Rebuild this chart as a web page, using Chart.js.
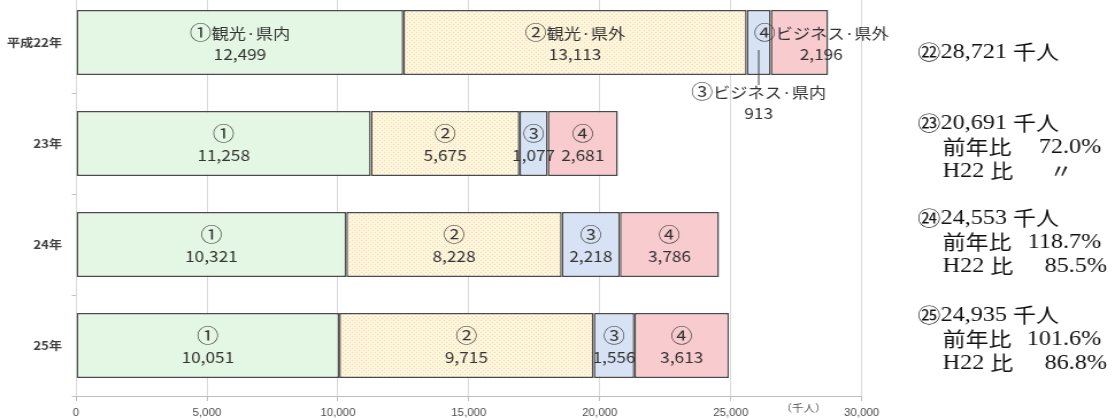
<!DOCTYPE html>
<html lang="ja">
<head>
<meta charset="utf-8">
<script src="https://cdn.jsdelivr.net/npm/chart.js@4.4.1/dist/chart.umd.min.js"></script>
<style>
  html, body { margin: 0; padding: 0; background: #fff; overflow: hidden; width: 1115px; height: 420px; }
  /* the chart is laid out on a narrower canvas and widened horizontally */
  #wrap { position: absolute; left: 0; top: -30px; width: 970px; height: 450px;
          transform: scaleX(1.1495); transform-origin: 0 0; }
</style>
</head>
<body>
<div id="wrap"><canvas id="c"></canvas></div>
<script>
// 観光・ビジネス別 入込客数（千人）
const years       = ['平成22年', '23年', '24年', '25年'];
const eraYears    = [22, 23, 24, 25];
const seriesMarks = ['①', '②', '③', '④'];
const seriesNames = ['観光·県内', '観光·県外', 'ビジネス·県内', 'ビジネス·県外'];
const tourismIn   = [12499, 11258, 10321, 10051];
const tourismOut  = [13113, 5675, 8228, 9715];
const businessIn  = [913, 1077, 2218, 1556];
const businessOut = [2196, 2681, 3786, 3613];
const xTicks      = [0, 5000, 10000, 15000, 20000, 25000, 30000];
const unitLabel   = '（千人）';

const totals = years.map((_, i) => tourismIn[i] + tourismOut[i] + businessIn[i] + businessOut[i]);
const fmt = v => v.toLocaleString('en-US');
const pct = (a, b) => (a / b * 100).toFixed(1) + '%';

const canvas = document.getElementById('c');
const mainCtx = canvas.getContext('2d');

// fine dotted fill for 観光·県外
function dotPattern() {
  const p = document.createElement('canvas');
  p.width = 4; p.height = 4;
  const g = p.getContext('2d');
  g.fillStyle = '#fef5de';
  g.fillRect(0, 0, 4, 4);
  g.fillStyle = '#f5dca4';
  g.fillRect(0, 0, 1, 1);
  g.fillRect(2, 2, 1, 1);
  return mainCtx.createPattern(p, 'repeat');
}

const MARK_FONT = "19px 'Noto Sans CJK JP'";
const LABEL_FONT = "15px 'Noto Sans CJK JP'";
const SERIF = "21px 'Liberation Serif'";
const CJK = "20px 'Noto Sans CJK JP'";

function runsWidth(ctx, runs) {
  return runs.reduce((w, [text, font]) => { ctx.font = font; return w + ctx.measureText(text).width; }, 0);
}

function drawRuns(ctx, x, y, runs) {
  runs.forEach(([text, font]) => {
    ctx.font = font;
    ctx.fillText(text, x, y);
    x += ctx.measureText(text).width;
  });
}

// values inside each bar segment
const barLabels = {
  id: 'barLabels',
  afterDatasetsDraw(chart) {
    const ctx = chart.ctx;
    ctx.save();
    ctx.fillStyle = '#333';
    ctx.textBaseline = 'middle';
    chart.data.datasets.forEach((ds, di) => {
      chart.getDatasetMeta(di).data.forEach((bar, i) => {
        const cx = (bar.x + bar.base) / 2;
        const cy = bar.y;
        const head = [[seriesMarks[di], MARK_FONT]];
        if (i === 0) head.push([seriesNames[di], LABEL_FONT]);
        let hx = cx, y0 = cy - 9.5, y1 = cy + 12;
        if (i === 0 && di === 2) {
          // narrow segment: label sits below the bar with a leader line
          ctx.strokeStyle = '#404040';
          ctx.lineWidth = 1;
          ctx.beginPath();
          ctx.moveTo(cx, cy + 7.5);
          ctx.lineTo(cx, cy + 42.5);
          ctx.stroke();
          y0 = cy + 49.5;
          y1 = cy + 70.5;
        } else if (i === 0 && di === 3) {
          hx = cx + 19;
        }
        ctx.textAlign = 'left';
        drawRuns(ctx, hx - runsWidth(ctx, head) / 2, y0, head);
        ctx.textAlign = 'center';
        ctx.font = LABEL_FONT;
        ctx.fillText(fmt(ds.data[i]), hx, y1);
      });
    });
    ctx.restore();
  }
};

// yearly totals and ratios at the right, plus the unit label
const sideNotes = {
  id: 'sideNotes',
  afterDraw(chart) {
    const ctx = chart.ctx;
    const yScale = chart.scales.y;
    const xScale = chart.scales.x;
    const firstLine = [9.5, -20.5, -26.5, -30.5];
    const gap = 24;
    const x0 = 798.3, xi = 820, xPrev = 958, xBase = 963, xDitto = 923;
    ctx.save();
    ctx.fillStyle = '#111';
    ctx.textBaseline = 'middle';
    years.forEach((_, i) => {
      const y = yScale.getPixelForValue(i) + firstLine[i];
      ctx.textAlign = 'left';
      drawRuns(ctx, x0, y, [
        [String.fromCodePoint(0x3251 + eraYears[i] - 21), CJK],
        [fmt(totals[i]) + ' ', SERIF],
        ['千人', CJK]
      ]);
      if (i === 0) return;
      drawRuns(ctx, xi, y + gap, [['前年比', CJK]]);
      drawRuns(ctx, xi, y + gap * 2, [['H' + eraYears[0] + ' ', SERIF], ['比', CJK]]);
      ctx.textAlign = 'right';
      ctx.font = SERIF;
      ctx.fillText(pct(totals[i], totals[i - 1]), xPrev, y + gap);
      if (i === 1) {
        ctx.textAlign = 'center';
        ctx.font = CJK;
        ctx.fillText('〃', xDitto, y + gap * 2);
      } else {
        ctx.fillText(pct(totals[i], totals[0]), xBase, y + gap * 2);
      }
    });
    ctx.textAlign = 'center';
    ctx.fillStyle = '#595959';
    ctx.font = "10px 'Noto Sans CJK JP'";
    ctx.fillText(unitLabel, 699, xScale.bottom - 12);
    ctx.restore();
  }
};

new Chart(canvas, {
  type: 'bar',
  data: {
    labels: years,
    datasets: [
      { label: seriesNames[0], data: tourismIn,   backgroundColor: '#e4f7e4' },
      { label: seriesNames[1], data: tourismOut,  backgroundColor: dotPattern() },
      { label: seriesNames[2], data: businessIn,  backgroundColor: '#d7e3f4' },
      { label: seriesNames[3], data: businessOut, backgroundColor: '#f8cbce' }
    ]
  },
  options: {
    indexAxis: 'y',
    responsive: true,
    maintainAspectRatio: false,
    animation: false,
    layout: { padding: { top: 22, right: 220.4, left: 0, bottom: 0 } },
    plugins: { legend: { display: false }, tooltip: { enabled: false } },
    datasets: {
      bar: {
        barPercentage: 0.644,
        categoryPercentage: 1,
        borderWidth: 1.5,
        borderColor: '#4a4a4a',
        borderSkipped: false
      }
    },
    scales: {
      x: {
        stacked: true,
        min: 0,
        max: 30000,
        afterBuildTicks: s => { s.ticks = xTicks.map(v => ({ value: v })); },
        afterFit: s => { s.height = 24; },
        grid: { color: '#d9d9d9', tickColor: '#bfbfbf', tickLength: 5 },
        border: { color: '#bfbfbf' },
        ticks: {
          font: { family: "'Liberation Sans Narrow', 'Liberation Sans'", size: 10 },
          color: '#4d4d4d',
          padding: 6,
          maxRotation: 0,
          autoSkip: false,
          callback: v => fmt(v)
        }
      },
      y: {
        stacked: true,
        afterFit: s => { s.width = 66.1; },
        grid: { drawOnChartArea: false, tickLength: 3.5, tickColor: '#bfbfbf' },
        border: { display: false },
        ticks: {
          font: { family: "'Noto Sans CJK JP'", size: 11.5, weight: 'bold' },
          color: '#404040',
          padding: 8.6
        }
      }
    }
  },
  plugins: [barLabels, sideNotes]
});
</script>
</body>
</html>
